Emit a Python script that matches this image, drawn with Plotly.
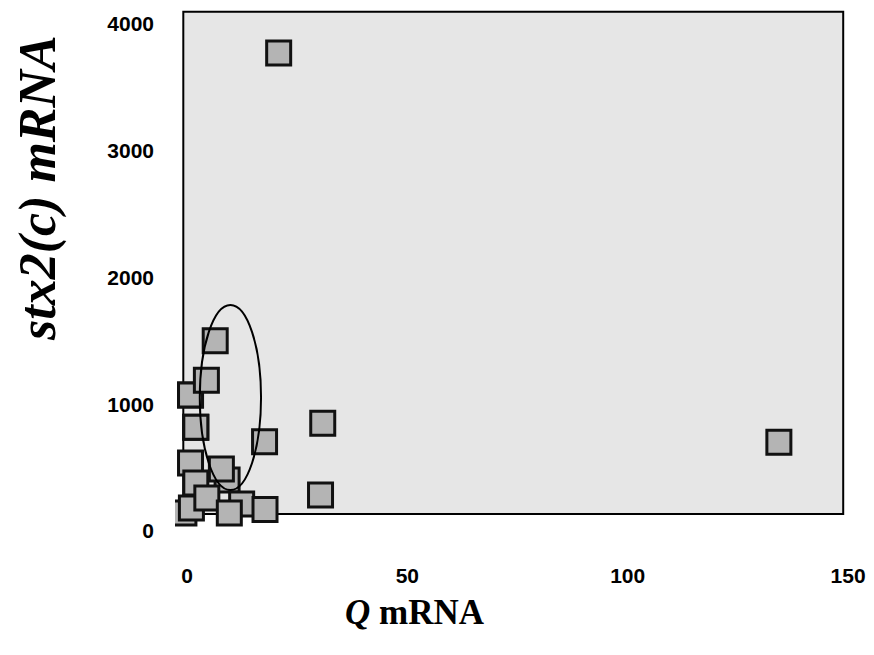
import plotly.graph_objects as go

# Data (Q mRNA vs stx2(c) mRNA)
q_mrna = [-0.7, 1.0, 0.8, 2.0, 9.1, 4.5, 2.0, 0.8, 7.8, 12.4, 9.6, 17.7,
          0.8, 2.0, 4.4, 6.4, 17.6, 30.8, 30.3, 134.3, 20.8]
stx2c_mrna = [142, 181, 536, 379, 402, 260, 818, 1073, 489, 213, 142, 170,
              1073, 818, 1189, 1501, 705, 850, 284, 700, 3771]

x_ticks = [0, 50, 100, 150]
y_ticks = [0, 1000, 2000, 3000, 4000]

# ellipse around the cluster (data coords)
ell_x = [2.9, 16.8]
ell_y = [323, 1783]
# framed panel (data coords)
box_x = [-0.84, 148.9]
box_y = [134, 4097]

fig = go.Figure()

fig.add_shape(type="rect", xref="x", yref="y",
              x0=box_x[0], x1=box_x[1], y0=box_y[0], y1=box_y[1],
              fillcolor="#e6e6e6", line=dict(color="black", width=2),
              layer="below")

fig.add_trace(go.Scatter(
    x=q_mrna, y=stx2c_mrna, mode="markers",
    marker=dict(symbol="square", size=24, color="#b4b4b4",
                line=dict(color="#111111", width=3)),
    showlegend=False, hoverinfo="x+y"))

fig.add_shape(type="circle", xref="x", yref="y",
              x0=ell_x[0], x1=ell_x[1], y0=ell_y[0], y1=ell_y[1],
              line=dict(color="black", width=2), fillcolor="rgba(0,0,0,0)")

tick_font = dict(family="Liberation Sans", size=21, color="black", weight="bold")

fig.update_xaxes(range=[-2.723, 152.71], tickvals=x_ticks,
                 ticktext=[str(v) for v in x_ticks], automargin=False,
                 showgrid=False, zeroline=False, showline=False,
                 ticks="", tickfont=tick_font, ticklabelstandoff=8)
fig.update_yaxes(range=[-173.6, 4118], tickvals=y_ticks,
                 ticktext=[str(v) for v in y_ticks], automargin=False,
                 showgrid=False, zeroline=False, showline=False,
                 ticks="", tickfont=tick_font, ticklabelstandoff=20)

PW, PH = 685, 544
fig.add_annotation(xref="paper", yref="paper", x=(407 - 167) / PW, y=(545 - 604) / PH,
                   text="<b><i>Q</i> mRNA</b>", showarrow=False,
                   xanchor="center", yanchor="middle",
                   font=dict(family="Liberation Serif", size=35, color="black"))
fig.add_annotation(xref="paper", yref="paper", x=(30 - 167) / PW, y=(545 - 180) / PH,
                   text="<b><i>stx2(c) mRNA</i></b>", showarrow=False,
                   textangle=-90, xanchor="center", yanchor="middle",
                   font=dict(family="Liberation Serif", size=52, color="black"))

fig.update_layout(width=866, height=647,
                  margin=dict(l=167, r=14, t=1, b=102),
                  plot_bgcolor="white", paper_bgcolor="white")

fig.write_html("out.html")
